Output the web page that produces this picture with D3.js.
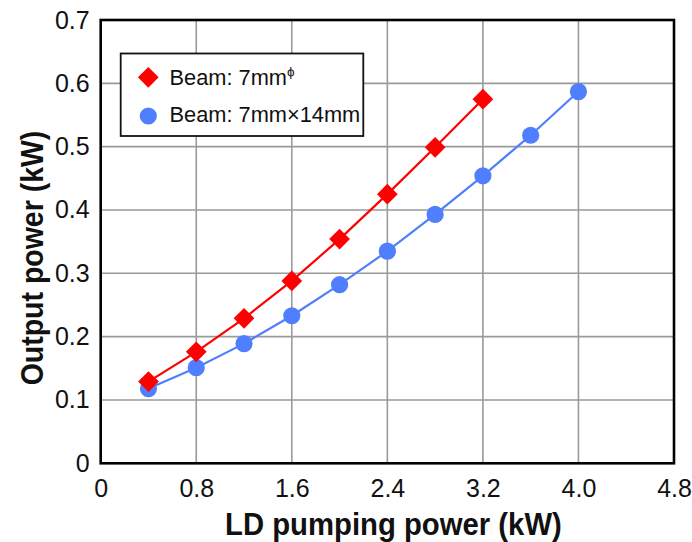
<!DOCTYPE html>
<html>
<head>
<meta charset="utf-8">
<script src="https://cdn.jsdelivr.net/npm/d3@7"></script>
<style>
  html, body { margin: 0; padding: 0; background: #fff; }
  svg { display: block; font-family: "Liberation Sans", Arial, sans-serif; }
</style>
</head>
<body>
<svg id="chart" width="692" height="542"></svg>
<script>
// LD pumping power (kW) for each measurement
const pumpRound = [0.4, 0.8, 1.2, 1.6, 2.0, 2.4, 2.8, 3.2];
const pumpRect  = [0.4, 0.8, 1.2, 1.6, 2.0, 2.4, 2.8, 3.2, 3.6, 4.0];
// Output power (kW)
const outRound = [0.129, 0.176, 0.229, 0.288, 0.354, 0.425, 0.499, 0.575];
const outRect  = [0.118, 0.151, 0.189, 0.233, 0.282, 0.335, 0.393, 0.454, 0.518, 0.587];
// Axis ticks
const xTicks = [0, 0.8, 1.6, 2.4, 3.2, 4.0, 4.8];
const xTickLabels = ["0", "0.8", "1.6", "2.4", "3.2", "4.0", "4.8"];
const yTicks = [0, 0.1, 0.2, 0.3, 0.4, 0.5, 0.6, 0.7];
const yTickLabels = ["0", "0.1", "0.2", "0.3", "0.4", "0.5", "0.6", "0.7"];

const svg = d3.select("#chart");
const plotL = 100.7, plotR = 674, plotT = 20, plotB = 463.3;

const x = d3.scaleLinear().domain([0, 4.8]).range([plotL, plotR]);
const y = d3.scaleLinear().domain([0, 0.7]).range([plotB, plotT]);

// Grid
const grid = svg.append("g").attr("stroke", "#9a9a9a").attr("stroke-width", 1.6);
grid.selectAll("line.v").data(xTicks.slice(1, -1)).join("line").attr("class", "v")
  .attr("x1", d => x(d)).attr("x2", d => x(d)).attr("y1", plotT).attr("y2", plotB);
grid.selectAll("line.h").data(yTicks.slice(1, -1)).join("line").attr("class", "h")
  .attr("x1", plotL).attr("x2", plotR).attr("y1", d => y(d)).attr("y2", d => y(d));

// Axes (labels only; frame drawn separately)
const xAxis = d3.axisBottom(x).tickValues(xTicks)
  .tickFormat((d, i) => xTickLabels[i]).tickSize(0).tickPadding(16);
const yAxis = d3.axisLeft(y).tickValues(yTicks)
  .tickFormat((d, i) => yTickLabels[i]).tickSize(0).tickPadding(11);

const gx = svg.append("g").attr("transform", `translate(0,${plotB})`).call(xAxis);
const gy = svg.append("g").attr("transform", `translate(${plotL},0)`).call(yAxis);
[gx, gy].forEach(g => {
  g.select(".domain").remove();
  g.selectAll("text").attr("font-size", 25).attr("fill", "#111")
    .attr("font-family", "'Liberation Sans', Arial, sans-serif");
});

// Frame
svg.append("rect")
  .attr("x", plotL).attr("y", plotT)
  .attr("width", plotR - plotL).attr("height", plotB - plotT)
  .attr("fill", "none").attr("stroke", "#000").attr("stroke-width", 2.6);

// Axis titles (bold, slightly tall lettering)
svg.append("text")
  .attr("transform", "translate(393.4,535.3) scale(1,1.08)")
  .attr("text-anchor", "middle").attr("font-size", 29.3).attr("font-weight", "bold")
  .attr("fill", "#111")
  .text("LD pumping power (kW)");
svg.append("text")
  .attr("transform", "translate(42.5,258) rotate(-90) scale(1,1.1)")
  .attr("text-anchor", "middle").attr("font-size", 28.5).attr("font-weight", "bold")
  .attr("fill", "#111")
  .text("Output power (kW)");

const red = "#ff0000", blue = "#4f7fff";
const line = d3.line().x(d => x(d[0])).y(d => y(d[1]));
const roundPts = pumpRound.map((p, i) => [p, outRound[i]]);
const rectPts = pumpRect.map((p, i) => [p, outRect[i]]);

const diamond = d3.symbol().type(d3.symbolSquare).size(215);

// Rectangular beam series
svg.append("path").datum(rectPts).attr("d", line)
  .attr("fill", "none").attr("stroke", blue).attr("stroke-width", 2.2);
svg.append("g").selectAll("circle").data(rectPts).join("circle")
  .attr("cx", d => x(d[0])).attr("cy", d => y(d[1])).attr("r", 8.6)
  .attr("fill", blue);

// Round beam series
svg.append("path").datum(roundPts).attr("d", line)
  .attr("fill", "none").attr("stroke", red).attr("stroke-width", 2.2);
svg.append("g").selectAll("path").data(roundPts).join("path")
  .attr("d", diamond)
  .attr("transform", d => `translate(${x(d[0])},${y(d[1])}) rotate(45)`)
  .attr("fill", red);

// Legend
const lg = svg.append("g");
lg.append("rect").attr("x", 120.7).attr("y", 53.5).attr("width", 242.6).attr("height", 82.5)
  .attr("fill", "#fff").attr("stroke", "#111").attr("stroke-width", 1.8);
lg.append("path").attr("d", diamond)
  .attr("transform", "translate(148.3,77.3) rotate(45)").attr("fill", red);
lg.append("circle").attr("cx", 148.3).attr("cy", 116).attr("r", 8.6).attr("fill", blue);
const t1 = lg.append("text").attr("x", 169.5).attr("y", 85)
  .attr("font-size", 21.8).attr("fill", "#111");
t1.append("tspan").text("Beam: 7mm");
t1.append("tspan").attr("dy", -9).attr("font-size", 13.5).text("ϕ");
lg.append("text").attr("x", 169.5).attr("y", 121.7)
  .attr("font-size", 21.8).attr("fill", "#111").text("Beam: 7mm×14mm");
</script>
</body>
</html>
